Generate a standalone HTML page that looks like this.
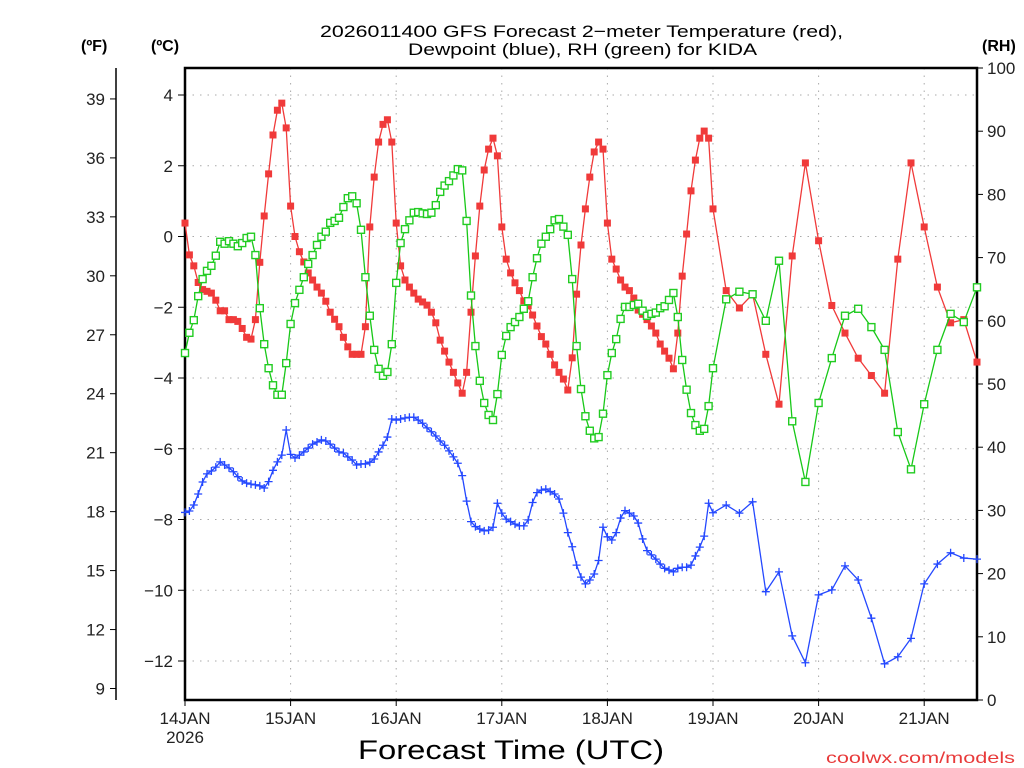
<!DOCTYPE html>
<html><head><meta charset="utf-8"><style>
html,body{margin:0;padding:0;background:#fff;}
svg{display:block;}
text{font-family:"Liberation Sans",sans-serif;}
</style></head><body>
<svg id="chart" width="1024" height="768" viewBox="0 0 1024 768" xmlns="http://www.w3.org/2000/svg">
<text x="320" y="37" font-size="17" textLength="523" lengthAdjust="spacingAndGlyphs" fill="#000">2026011400 GFS Forecast 2−meter Temperature (red),</text>
<text x="408" y="55" font-size="17" textLength="349" lengthAdjust="spacingAndGlyphs" fill="#000">Dewpoint (blue), RH (green) for KIDA</text>
<text x="81" y="51" font-size="16" font-weight="bold">(ºF)</text>
<text x="151" y="51" font-size="16" font-weight="bold">(ºC)</text>
<text x="982" y="51" font-size="16" font-weight="bold">(RH)</text>
<text x="358" y="759" font-size="27" textLength="306" lengthAdjust="spacingAndGlyphs" fill="#000">Forecast Time (UTC)</text>
<text x="826" y="763" font-size="16" textLength="189" lengthAdjust="spacingAndGlyphs" fill="#e83a3a">coolwx.com/models</text>
<g id="grid"></g><g id="axes"></g><g id="series"></g>
</svg>
<script>
// ---- data ----
const dayLabels = ["14JAN","15JAN","16JAN","17JAN","18JAN","19JAN","20JAN","21JAN"];
const yearLabel = "2026";
const fTicks = [9,12,15,18,21,24,27,30,33,36,39];
const cTicks = [-12,-10,-8,-6,-4,-2,0,2,4];
const rhTicks = [0,10,20,30,40,50,60,70,80,90,100];
const tempC = [
0.38,-0.52,-0.83,-1.3,-1.5,-1.55,-1.6,-1.8,-2.1,-2.1,-2.35,-2.35,-2.4,-2.6,-2.85,-2.9,-2.35,-0.73,0.58,1.77,2.87,3.57,3.77,3.07,0.86,
0,-0.43,-0.72,-1.03,-1.23,-1.43,-1.6,-1.83,-2.14,-2.34,-2.55,-2.85,-3.12,-3.33,-3.33,-3.33,-2.55,0.27,1.68,2.67,3.17,3.3,2.67,0.38,
-0.83,-1.23,-1.43,-1.6,-1.77,-1.85,-1.94,-2.14,-2.44,-2.93,-3.24,-3.55,-3.84,-4.14,-4.43,-3.84,-2.14,-0.55,0.86,1.88,
2.47,2.78,2.28,0.27,-0.64,-1.03,-1.31,-1.53,-1.82,-1.96,-2.22,-2.53,-2.83,-3.04,-3.33,-3.63,-3.84,-4.03,-4.34,-3.43,
-1.63,-0.24,0.78,1.68,2.39,2.67,2.47,0.38,
-0.64,-0.92,-1.23,-1.43,-1.53,-1.74,-2.08,-2.2,-2.35,-2.53,-2.73,-3.04,-3.24,-3.44,-3.74,-2.73,-1.12,0.07,1.29,2.16,2.78,2.98,2.78,0.78,
-1.53,-2.02,-1.63,-3.33,-4.74,-0.55,2.08,-0.12,-1.95,-2.73,-3.44,-3.93,-4.43,-0.64,2.08,0.27,-1.43,-2.44,-2.35,-3.55];
const rh = [
54.9,58.1,60.1,63.9,66.6,67.9,68.7,70.3,72.5,72.2,72.6,72.2,71.8,72.3,73.1,73.3,70.4,62.0,56.3,52.5,
49.8,48.3,48.3,53.3,59.5,62.8,64.9,66.9,69.0,70.4,72.0,73.3,74.1,75.5,75.8,76.3,78.0,79.4,79.7,78.6,
74.4,66.9,60.8,55.4,52.4,51.3,51.9,56.3,66.0,
72.3,74.5,75.9,77.1,77.2,77.0,76.9,77.1,78.3,80.4,81.4,82.1,83.0,84.0,83.8,75.8,64.0,56.0,50.5,47.0,
45.1,44.3,48.4,54.6,57.6,59.0,59.8,60.6,61.9,63.1,66.9,69.9,72.2,73.3,74.5,75.9,76.1,74.9,73.6,66.6,
56.0,49.2,44.9,42.6,41.4,41.6,45.3,51.4,
54.9,57.1,60.3,62.2,62.2,62.5,62.7,61.6,60.8,61.1,61.3,62.0,62.3,63.3,64.4,60.6,53.8,49.1,45.4,43.5,42.6,42.9,46.5,52.5,
63.4,64.6,64.2,60.0,69.5,44.1,34.5,47.0,54.1,60.8,61.9,59.0,55.4,42.4,36.5,46.8,55.4,61.1,59.8,65.3];
const dewC = [
-7.8,-7.76,-7.59,-7.28,-6.94,-6.71,-6.63,-6.52,-6.37,-6.46,-6.54,
-6.65,-6.79,-6.91,-6.97,-7.0,-7.02,-7.05,-7.11,-6.93,-6.61,
-6.37,-6.18,-5.47,-6.16,-6.26,-6.18,-6.09,-5.98,-5.87,-5.81,
-5.75,-5.78,-5.87,-5.98,-6.09,-6.12,-6.23,-6.32,-6.46,-6.43,
-6.43,-6.38,-6.29,-6.09,-5.9,-5.67,-5.16,-5.19,-5.16,-5.13,
-5.11,-5.11,-5.19,-5.28,-5.41,-5.52,-5.64,-5.78,-5.9,-6.06,
-6.23,-6.41,-6.76,-7.48,
-8.06,-8.2,-8.27,-8.32,-8.3,-8.22,-7.54,-7.82,-7.99,-8.06,
-8.13,-8.18,-8.18,-8.01,-7.52,-7.24,-7.17,-7.14,-7.21,-7.28,
-7.42,-7.82,-8.37,-8.77,-9.29,-9.63,-9.82,-9.71,-9.54,-9.16,
-8.22,-8.49,-8.58,-8.37,-7.96,-7.75,-7.82,-7.9,-8.1,-8.55,
-8.88,-9.0,-9.12,-9.26,-9.38,-9.43,-9.48,-9.38,-9.35,-9.35,
-9.29,-9.03,-8.78,-8.47,-7.54,-7.81,
-7.59,-7.82,-7.5,-10.04,-9.48,-11.29,-12.05,-10.13,-9.99,-9.31,-9.71,-10.79,-12.08,-11.88,-11.36,-9.82,-9.26,-8.94,-9.09,-9.12];
// forecast hours: hourly to 120, then 3-hourly to 180
const hours = [];
for (let h = 0; h <= 120; h++) hours.push(h);
for (let h = 123; h <= 180; h += 3) hours.push(h);

// ---- axes ----
const L=185,R=977,T=68,B=700;
const xOf = h => L + (R-L)*h/180;
const yC = c => 236.5 - 35.375*c;
const yF = f => yC((f-32)*5/9);
const yRH = v => B - (B-T)*v/100;
const NS="http://www.w3.org/2000/svg";
function mk(parent,tag,attrs){const e=document.createElementNS(NS,tag);for(const k in attrs)e.setAttribute(k,attrs[k]);parent.appendChild(e);return e;}
const grid=document.getElementById('grid'), axes=document.getElementById('axes'), series=document.getElementById('series');

cTicks.forEach(c=>{
  const l=mk(grid,'line',{x1:L,x2:R,y1:yC(c),y2:yC(c),stroke:'#aaa','stroke-width':1,'stroke-dasharray':'1.5 6'});
  
  
  const t=mk(axes,'line',{x1:178,x2:L,y1:yC(c),y2:yC(c),stroke:'#000','stroke-width':1});
  
  
  const tx=mk(axes,'text',{x:173,y:yC(c)+6,'font-size':17,'text-anchor':'end',fill:'#222'});
  tx.textContent=(c<0?'−':'')+Math.abs(c);
  
  
});
dayLabels.forEach((d,i)=>{
  const x=xOf(i*24);
  if(i>0){const l=mk(grid,'line',{x1:x,x2:x,y1:T,y2:B,stroke:'#aaa','stroke-width':1,'stroke-dasharray':'1.5 6'});
  
  }
  const t=mk(axes,'line',{x1:x,x2:x,y1:B,y2:B+6,stroke:'#000','stroke-width':1});
  
  
  const tx=mk(axes,'text',{x:x,y:724,'font-size':17,'text-anchor':'middle',fill:'#222'});
  tx.textContent=d;
  
  
});
const yr=mk(axes,'text',{x:L,y:743,'font-size':17,'text-anchor':'middle',fill:'#222'});
yr.textContent=yearLabel;



const fl=mk(axes,'line',{x1:116,x2:116,y1:T,y2:B,stroke:'#000','stroke-width':1.5});


fTicks.forEach(f=>{
  const t=mk(axes,'line',{x1:110,x2:116,y1:yF(f),y2:yF(f),stroke:'#000','stroke-width':1});
  
  
  const tx=mk(axes,'text',{x:105,y:yF(f)+6,'font-size':17,'text-anchor':'end',fill:'#222'});
  tx.textContent=f;
  
  
});
rhTicks.forEach(v=>{
  const t=mk(axes,'line',{x1:R,x2:R+6,y1:yRH(v),y2:yRH(v),stroke:'#000','stroke-width':1});
  
  
  const tx=mk(axes,'text',{x:987,y:yRH(v)+6,'font-size':17,fill:'#222'});
  tx.textContent=v;
  
  
});
const fr=mk(axes,'path',{d:`M${L} ${T}H${R}V${B}H${L}Z`,fill:'none',stroke:'#000','stroke-width':2.5});



// ---- series ----
function pts(arr,yf){return arr.map((v,i)=>[xOf(hours[i]),yf(v)]);}
function drawLine(p,color,name){
  const pl=mk(series,'polyline',{points:p.map(q=>q.join(',')).join(' '),fill:'none',stroke:color,'stroke-width':1.3});
  
  
}
const pT=pts(tempC,yC), pR=pts(rh,yRH), pD=pts(dewC,yC);
drawLine(pT,'#f03a3a','temperature-line');
pT.forEach(([x,y])=>{
  const m=mk(series,'rect',{x:x-3.5,y:y-3.5,width:7,height:7,fill:'#f03a3a'});
  
  
});
drawLine(pR,'#18c818','rh-line');
pR.forEach(([x,y])=>{
  const m=mk(series,'rect',{x:x-3.5,y:y-3.5,width:7,height:7,fill:'#fff',stroke:'#22cc22','stroke-width':1.4});
  
  
});
drawLine(pD,'#2448ff','dewpoint-line');
pD.forEach(([x,y])=>{
  const m=mk(series,'path',{d:`M${x-4} ${y}H${x+4}M${x} ${y-4}V${y+4}`,stroke:'#2448ff','stroke-width':1.3});
  
  
});
</script>
</body></html>
